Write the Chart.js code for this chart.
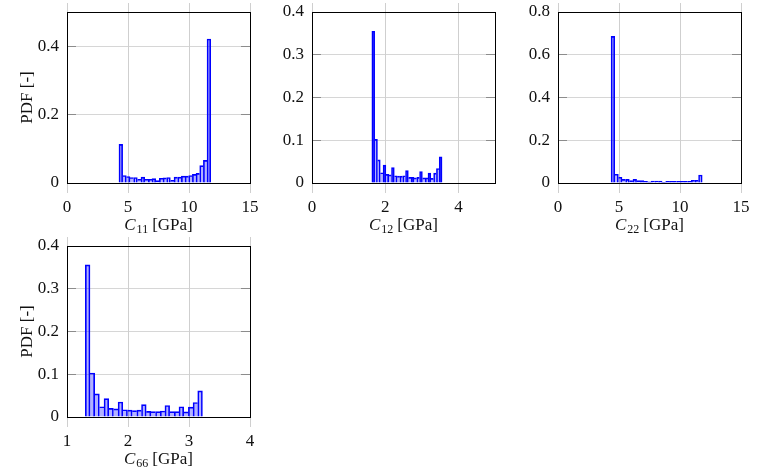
<!DOCTYPE html>
<html>
<head>
<meta charset="utf-8">
<script src="https://cdn.jsdelivr.net/npm/chart.js@4.4.1/dist/chart.umd.min.js"></script>
<style>
  html, body { margin: 0; padding: 0; background: #fff; }
  #wrap { position: relative; width: 763px; height: 468px; overflow: hidden; }
  .cell { position: absolute; width: 260px; height: 234px; }
</style>
</head>
<body>
<div id="wrap">
  <div class="cell" style="left:0px;top:0px"><canvas id="c11" width="260" height="234"></canvas></div>
  <div class="cell" style="left:245px;top:0px"><canvas id="c12" width="260" height="234"></canvas></div>
  <div class="cell" style="left:491px;top:0px"><canvas id="c22" width="260" height="234"></canvas></div>
  <div class="cell" style="left:0px;top:234px"><canvas id="c66" width="260" height="234"></canvas></div>
</div>
<script>
//* Input data //*

// histogram range [first edge, last edge] in GPa, 25 bins each
var c11Range = [4.26, 11.78];
var c12Range = [1.635, 3.553];
var c22Range = [4.35, 11.82];
var c66Range = [1.30, 3.22];

// bin heights (PDF)
var c11Pdf = [0.113, 0.022, 0.019, 0.016, 0.016, 0.011, 0.017, 0.011, 0.011, 0.013, 0.007, 0.014, 0.015,
              0.016, 0.008, 0.017, 0.017, 0.020, 0.020, 0.022, 0.025, 0.028, 0.051, 0.066, 0.421];
var c12Pdf = [0.355, 0.102, 0.054, 0.024, 0.042, 0.020, 0.019, 0.036, 0.017, 0.016, 0.016, 0.017, 0.029,
              0.013, 0.013, 0.012, 0.013, 0.027, 0.012, 0.012, 0.023, 0.011, 0.023, 0.034, 0.061];
var c22Pdf = [0.686, 0.041, 0.027, 0.017, 0.017, 0.011, 0.017, 0.011, 0.011, 0.008, 0.005, 0.009, 0.009,
              0.009, 0.003, 0.008, 0.008, 0.008, 0.008, 0.008, 0.008, 0.008, 0.013, 0.013, 0.0375];
var c66Pdf = [0.356, 0.103, 0.054, 0.024, 0.043, 0.020, 0.019, 0.035, 0.017, 0.016, 0.015, 0.016, 0.029,
              0.013, 0.0125, 0.0125, 0.014, 0.027, 0.0125, 0.0125, 0.024, 0.012, 0.023, 0.034, 0.061];

// axis limits and ticks
var c11Lim = [0, 15], c12Lim = [0, 5], c22Lim = [0, 15], c66Lim = [1, 4];
var c11Ticks = [0, 5, 10, 15];
var c12Ticks = [0, 2, 4];
var c22Ticks = [0, 5, 10, 15];
var c66Ticks = [1, 2, 3, 4];
var c11PdfTicks = [0, 0.2, 0.4];
var c12PdfTicks = [0, 0.1, 0.2, 0.3, 0.4];
var c22PdfTicks = [0, 0.2, 0.4, 0.6, 0.8];
var c66PdfTicks = [0, 0.1, 0.2, 0.3, 0.4];

var serif = "'Liberation Serif', 'DejaVu Serif', serif";
var fontSize = 17;

//* Plugins: frame, grid stubs and the x label with subscript //*

var framePlugin = {
    id: 'frame',
    beforeDatasetsDraw: function(chart) {
        var a = chart.chartArea, ctx = chart.ctx;
        var xs = chart.scales.x, ys = chart.scales.y;
        ctx.save();
        ctx.lineWidth = 1;
        // vertical grid lines poke out above and below the box
        ctx.strokeStyle = '#cfcfcf';
        xs.ticks.forEach(function(t) {
            var px = Math.round(xs.getPixelForValue(t.value) - 0.5) + 0.5;
            ctx.beginPath();
            ctx.moveTo(px, a.top - 9);
            ctx.lineTo(px, a.bottom + 10);
            ctx.stroke();
        });
        // short darker marks at both ends of the horizontal grid lines
        ctx.strokeStyle = '#8c8c8c';
        ys.ticks.forEach(function(t) {
            var py = Math.round(ys.getPixelForValue(t.value) - 0.5) + 0.5;
            ctx.beginPath();
            ctx.moveTo(a.left, py); ctx.lineTo(a.left + 9, py);
            ctx.moveTo(a.right - 9, py); ctx.lineTo(a.right, py);
            ctx.stroke();
        });
        ctx.restore();
    },
    afterDatasetsDraw: function(chart) {
        var a = chart.chartArea, ctx = chart.ctx;
        ctx.save();
        ctx.lineWidth = 1;
        ctx.strokeStyle = '#000';
        ctx.strokeRect(a.left + 0.5, a.top + 0.5, a.right - a.left, a.bottom - a.top);
        ctx.restore();
    }
};

var xTitlePlugin = {
    id: 'xTitle',
    afterDraw: function(chart, args, opts) {
        var a = chart.chartArea, ctx = chart.ctx;
        var big = fontSize + 'px ' + serif, small = '12px ' + serif;
        ctx.save();
        ctx.fillStyle = '#111';
        ctx.textBaseline = 'alphabetic';
        ctx.textAlign = 'left';
        ctx.font = 'italic ' + big; var w1 = ctx.measureText('C').width + 1;
        ctx.font = small; var w2 = ctx.measureText(opts.sub).width;
        ctx.font = big; var w3 = ctx.measureText('[GPa]').width;
        var gap = 4;
        var x = (a.left + a.right) / 2 - (w1 + w2 + gap + w3) / 2;
        var y = a.bottom + 46.5;
        ctx.font = 'italic ' + big; ctx.fillText('C', x, y);
        ctx.font = small; ctx.fillText(opts.sub, x + w1, y + 3);
        ctx.font = big; ctx.fillText('[GPa]', x + w1 + w2 + gap, y);
        ctx.restore();
    }
};

//* Build one histogram //*

function histPoints(range, pdf) {
    // put each bin value at the middle of its bin
    var w = (range[1] - range[0]) / pdf.length;
    return pdf.map(function(v, i) { return {x: range[0] + w * (i + 0.5), y: v}; });
}

function edgeWidths(pdf) {
    // shared bin edges are drawn once, by the taller neighbour
    return function(ctx) {
        var i = ctx.dataIndex, n = pdf.length;
        return {
            top: 1,
            left: (i === 0 || pdf[i] >= pdf[i - 1]) ? 1 : 0,
            right: (i === n - 1 || pdf[i] > pdf[i + 1]) ? 1 : 0,
            bottom: 0
        };
    };
}

function makeHist(id, range, pdf, xLim, xTicks, yTicks, yMax, sub, showYTitle) {
    var canvas = document.getElementById(id).getContext('2d');
    return new Chart(canvas, {
        type: 'bar',
        data: {
            datasets: [{
                data: histPoints(range, pdf),
                backgroundColor: 'rgba(0, 0, 255, 0.3)',
                borderColor: '#0000ff',
                borderWidth: edgeWidths(pdf),
                borderSkipped: false,
                barPercentage: 1,
                categoryPercentage: 1
            }]
        },
        options: {
            responsive: false,
            animation: false,
            events: [],
            layout: { padding: { top: 12, right: 10, bottom: 0, left: 0 } },
            plugins: {
                legend: { display: false },
                tooltip: { enabled: false },
                xTitle: { sub: sub }
            },
            scales: {
                x: {
                    type: 'linear',
                    offset: false,
                    min: xLim[0],
                    max: xLim[1],
                    afterBuildTicks: function(s) { s.ticks = xTicks.map(function(v) { return {value: v}; }); },
                    afterFit: function(s) { s.height = 51; s.paddingLeft = 0; s.paddingRight = 0; },
                    grid: { display: false },
                    border: { display: false },
                    ticks: {
                        padding: 6,
                        maxRotation: 0,
                        autoSkip: false,
                        color: '#111',
                        font: { family: serif, size: fontSize },
                        callback: function(v) { return String(v); }
                    }
                },
                y: {
                    min: 0,
                    max: yMax,
                    afterBuildTicks: function(s) { s.ticks = yTicks.map(function(v) { return {value: v}; }); },
                    afterFit: function(s) { s.width = 67; s.paddingTop = 0; s.paddingBottom = 0; },
                    grid: { color: '#d6d6d6', drawTicks: false },
                    border: { display: false },
                    title: {
                        display: showYTitle,
                        text: 'PDF [-]',
                        color: '#111',
                        font: { family: serif, size: fontSize },
                        padding: { top: 17, bottom: 0 }
                    },
                    ticks: {
                        padding: 8,
                        autoSkip: false,
                        color: '#111',
                        font: { family: serif, size: fontSize },
                        callback: function(v) { return String(v); }
                    }
                }
            }
        },
        plugins: [framePlugin, xTitlePlugin]
    });
}

//* Draw the four panels //*

var chartC11 = makeHist('c11', c11Range, c11Pdf, c11Lim, c11Ticks, c11PdfTicks, 0.5, '11', true);
var chartC12 = makeHist('c12', c12Range, c12Pdf, c12Lim, c12Ticks, c12PdfTicks, 0.4, '12', false);
var chartC22 = makeHist('c22', c22Range, c22Pdf, c22Lim, c22Ticks, c22PdfTicks, 0.8, '22', false);
var chartC66 = makeHist('c66', c66Range, c66Pdf, c66Lim, c66Ticks, c66PdfTicks, 0.4, '66', true);
</script>
</body>
</html>
